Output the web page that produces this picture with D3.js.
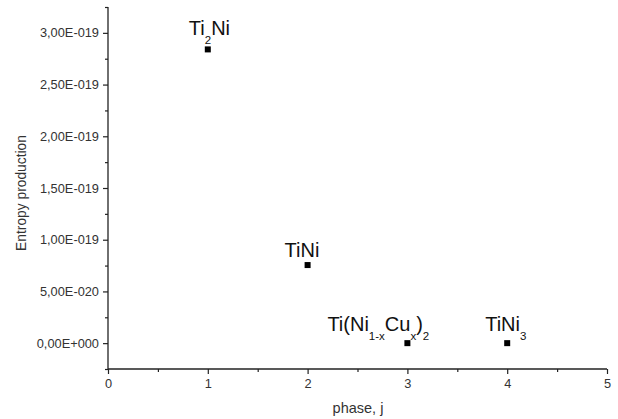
<!DOCTYPE html>
<html><head><meta charset="utf-8">
<script src="https://cdn.jsdelivr.net/npm/d3@7"></script>
<style>body{margin:0;background:#fff}svg{display:block}</style>
</head><body>
<svg id="c" width="618" height="419"></svg>
<script>
// Data
const phases = [1, 2, 3, 4];
const entropy = [2.84e-19, 7.55e-20, 0, 0];
// Label parts: [text, isSubscript]
const phaseLabels = [
  [["Ti",0],["2",1],["Ni",0]],
  [["TiNi",0]],
  [["Ti(Ni",0],["1-x",1],["Cu",0],["x",1],[")",0],["2",1]],
  [["TiNi",0],["3",1]]
];
const xTicks = [0, 1, 2, 3, 4, 5];
const yTickSteps = [0, 1, 2, 3, 4, 5, 6]; // multiples of 5E-020
const xTitle = "phase, j";
const yTitle = "Entropy production";

// layout (pixel offsets of labels from their point)
const labelOffsets = [[-19, -14], [-23, -8], [-80, -12], [-22, -12]];

const svg = d3.select("#c");
const font = "'Liberation Sans', Arial, sans-serif";
const x = d3.scaleLinear().domain([0, 5]).range([108, 607]);
const y = d3.scaleLinear().domain([-2.5e-20, 3.25e-19]).range([369, 7]);

function fmt(v) {
  if (Math.abs(v) < 1e-30) return "0,00E+000";
  let e = Math.floor(Math.log10(Math.abs(v)) + 1e-9);
  let m = v / Math.pow(10, e);
  const s = e < 0 ? "-" : "+";
  return m.toFixed(2).replace(".", ",") + "E" + s + String(Math.abs(e)).padStart(3, "0");
}

const axisColor = "#222";
// Y axis
const gy = svg.append("g").attr("transform", "translate(108,0)");
gy.call(d3.axisLeft(y).tickValues(yTickSteps.map(k => k * 5e-20)).tickFormat(fmt).tickSize(5).tickPadding(4));
const gyMinor = svg.append("g").attr("transform", "translate(108,0)");
gyMinor.call(d3.axisLeft(y).tickValues(d3.range(-1, 14, 2).map(k => k * 2.5e-20)).tickFormat("").tickSize(3));
gyMinor.select(".domain").remove();
// X axis
const gx = svg.append("g").attr("transform", "translate(0,369)");
gx.call(d3.axisBottom(x).tickValues(xTicks).tickFormat(d3.format("d")).tickSize(5).tickPadding(5));
const gxMinor = svg.append("g").attr("transform", "translate(0,369)");
gxMinor.call(d3.axisBottom(x).tickValues(d3.range(0.5, 5, 1)).tickFormat("").tickSize(3));
gxMinor.select(".domain").remove();

svg.selectAll(".domain").attr("stroke", axisColor).attr("stroke-width", 1.3);
svg.selectAll(".tick line").attr("stroke", axisColor).attr("stroke-width", 1.2);
svg.selectAll(".tick text").attr("font-family", font).attr("font-size", 12.8).attr("fill", "#333");
gy.select(".domain").attr("d", `M0,${y.range()[1]}V${y.range()[0]}`);
gx.select(".domain").attr("d", `M${x.range()[0]},0H${x.range()[1]}`);

// Titles
svg.append("text").attr("x", 358).attr("y", 413).attr("text-anchor", "middle")
  .attr("font-family", font).attr("font-size", 14.5).attr("fill", "#333").text(xTitle);
svg.append("text").attr("transform", "translate(26,193) rotate(-90)").attr("text-anchor", "middle")
  .attr("font-family", font).attr("font-size", 13.8).attr("fill", "#333").text(yTitle);

// Points
svg.selectAll("rect.pt").data(phases).enter().append("rect").attr("class", "pt")
  .attr("x", (d) => x(d) - 3).attr("y", (d, i) => y(entropy[i]) - 3)
  .attr("width", 6).attr("height", 6).attr("fill", "#000");

// Labels
phases.forEach((p, i) => {
  const t = svg.append("text")
    .attr("x", x(p) + labelOffsets[i][0]).attr("y", y(entropy[i]) + labelOffsets[i][1])
    .attr("font-family", font).attr("font-size", 20).attr("fill", "#111");
  let sub = false;
  phaseLabels[i].forEach(([s, isSub]) => {
    const ts = t.append("tspan").text(s);
    if (isSub && !sub) { ts.attr("dy", 8.5).attr("font-size", 11.5); sub = true; }
    else if (isSub) { ts.attr("font-size", 11.5); }
    else if (!isSub && sub) { ts.attr("dy", -8.5); sub = false; }
  });
});
</script>
</body></html>
